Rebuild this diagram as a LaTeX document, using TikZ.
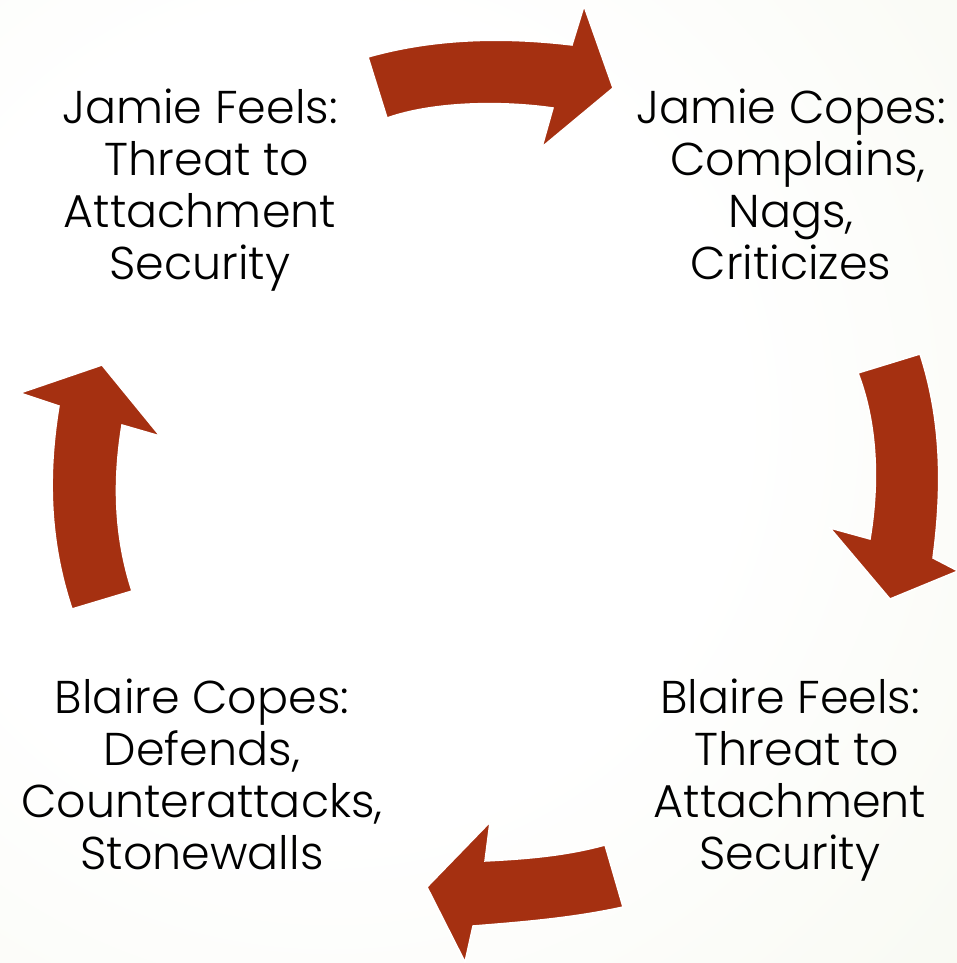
\documentclass[tikz,border=0pt]{standalone}
\usepackage{fontspec}
\setmainfont{Poppins}[UprightFont=* Light]
\definecolor{arrowred}{RGB}{165,48,17}
\definecolor{bgout}{RGB}{235,239,219}
\pgfdeclareradialshading{bgshade}{\pgfpoint{0bp}{0bp}}{color(0bp)=(white); color(6bp)=(white); color(25bp)=(bgout); color(50bp)=(bgout)}
\tikzset{
  cyclearrow/.style={fill=arrowred, draw=white, line width=1.5pt, line join=miter},
  label/.style={align=center, anchor=base, inner sep=0pt, text=black,
    font=\fontsize{46}{52}\selectfont}
}
\begin{document}
\begin{tikzpicture}[x=1pt,y=-1pt]
\useasboundingbox (0,0) rectangle (957,963);
\begin{scope}
  \clip (0,0) rectangle (957,963);
  \shade[shading=bgshade] (330,420) circle (1700);
\end{scope}
% top arrow
\path[cyclearrow] (368,57) .. controls (435,38) and (505,37) .. (572,45) -- (584,6) -- (613,88) -- (542,147) -- (553,108) .. controls (505,101) and (435,101) .. (387,118) -- cycle;
% right arrow
\path[cyclearrow] (858,373) -- (920,354) .. controls (942,422) and (942,490) .. (933,558) -- (958,571) -- (890,599) -- (830,528) -- (870,539) .. controls (879,485) and (878,425) .. cycle;
% bottom arrow
\path[cyclearrow] (605,845) -- (623,907) .. controls (573,918) and (523,922) .. (473,926) -- (465,962) -- (427,887) -- (490,822) -- (485,861) .. controls (525,859) and (565,856) .. cycle;
% left arrow
\path[cyclearrow] (132,591) -- (72,609) .. controls (49,540) and (48,473) .. (59,406) -- (20,393) -- (102,365) -- (160,436) -- (122,425) .. controls (113,480) and (114,536) .. cycle;
% labels (base anchor = baseline of last line)
\node[label] (jf) at (200,279) {Jamie Feels:\\\hspace*{14pt}Threat to\\Attachment\\Security};
\node[label] (jc) at (791,279) {Jamie Copes:\\\hspace*{14pt}Complains,\\Nags,\\Criticizes};
\node[label] (bc) at (202,869) {Blaire Copes:\\Defends,\\Counterattacks,\\Stonewalls};
\node[label] (bf) at (790,869) {Blaire Feels:\\\hspace*{14pt}Threat to\\Attachment\\Security};
\end{tikzpicture}
\end{document}
